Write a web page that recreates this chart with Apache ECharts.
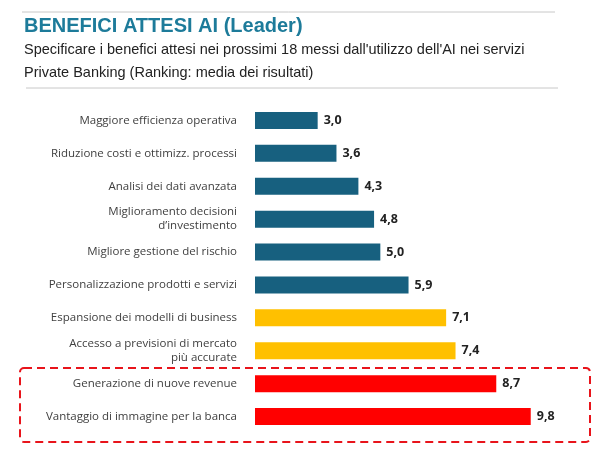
<!DOCTYPE html>
<html><head><meta charset="utf-8">
<script src="https://cdn.jsdelivr.net/npm/echarts@6/dist/echarts.min.js"></script>
<style>html,body{margin:0;background:#fff}#c{width:594px;height:449px}</style>
</head><body><div id="c"></div>
<script>
// categories top to bottom
const categories = [
  'Maggiore efficienza operativa',
  'Riduzione costi e ottimizz. processi',
  'Analisi dei dati avanzata',
  'Miglioramento decisioni\nd\u2019investimento',
  'Migliore gestione del rischio',
  'Personalizzazione prodotti e servizi',
  'Espansione dei modelli di business',
  'Accesso a previsioni di mercato\npi\u00f9 accurate',
  'Generazione di nuove revenue',
  'Vantaggio di immagine per la banca'
];
const values = [3.0, 3.6, 4.3, 4.8, 5.0, 5.9, 7.1, 7.4, 8.7, 9.8];
const groups = ['blue','blue','blue','blue','blue','blue','yellow','yellow','red','red'];
const groupColors = { blue: '#17607f', yellow: '#ffc000', red: '#ff0000' };

const chart = echarts.init(document.getElementById('c'));
const font = "'Liberation Sans Narrow','Open Sans',sans-serif";
chart.setOption({
  animation: false,
  grid: { left: 255, right: 57, top: 104, bottom: 16 },
  xAxis: { type: 'value', min: 1, max: 10, show: false },
  yAxis: {
    type: 'category', inverse: true, data: categories,
    axisLine: { show: false }, axisTick: { show: false },
    axisLabel: { color: '#404040', fontSize: 11.5, fontFamily: font, margin: 18, align: 'right', lineHeight: 14 }
  },
  series: [{
    type: 'bar', barWidth: 17,
    data: values.map((v, i) => ({ value: v, itemStyle: { color: groupColors[groups[i]] } })),
    label: {
      show: true, position: 'right', distance: 6, fontWeight: 'bold', fontSize: 12.5, color: '#222',
      fontFamily: font, formatter: p => p.value.toFixed(1).replace('.', ',')
    }
  }],
  graphic: [
    { type: 'line', shape: { x1: 22, y1: 12, x2: 555, y2: 12 }, style: { stroke: '#c8c8c8', lineWidth: 1 } },
    { type: 'line', shape: { x1: 26, y1: 88, x2: 558, y2: 88 }, style: { stroke: '#c8c8c8', lineWidth: 1 } },
    { type: 'text', left: 24, top: 16, style: { text: 'BENEFICI ATTESI AI (Leader)', fill: '#1d7b9a', font: "bold 20px 'Liberation Sans Narrow',sans-serif" } },
    { type: 'text', left: 24, top: 42, style: { text: "Specificare i benefici attesi nei prossimi 18 messi dall'utilizzo dell'AI nei servizi", fill: '#222', font: "14.5px 'Liberation Sans Narrow',sans-serif" } },
    { type: 'text', left: 24, top: 65, style: { text: 'Private Banking (Ranking: media dei risultati)', fill: '#222', font: "14.5px 'Liberation Sans Narrow',sans-serif" } },
    { type: 'rect', shape: { x: 20, y: 368, width: 570, height: 74, r: 4 }, style: { fill: 'none', stroke: '#e8141b', lineWidth: 2, lineDash: [8, 5] } }
  ]
});
</script></body></html>
